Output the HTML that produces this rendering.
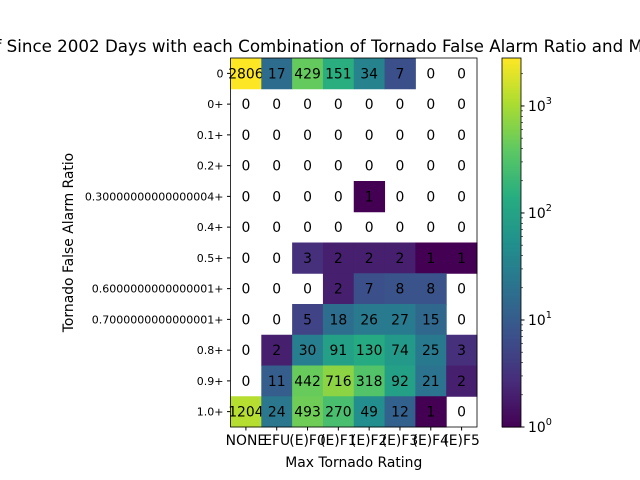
<!DOCTYPE html>
<html><head><meta charset="utf-8"><style>body{margin:0;background:#fff}svg{display:block;font-family:"DejaVu Sans","Liberation Sans",sans-serif}</style></head>
<body>
<svg id="c" width="640" height="480" viewBox="0 0 640 480"></svg>
<script>
const xCats=["NONE","EFU","(E)F0","(E)F1","(E)F2","(E)F3","(E)F4","(E)F5"];
const yCats=["0","0+","0.1+","0.2+","0.30000000000000004+","0.4+","0.5+","0.6000000000000001+","0.7000000000000001+","0.8+","0.9+","1.0+"];
const row0=[2806,17,429,151,34,7,0,0];
const row1=[0,0,0,0,0,0,0,0];
const row2=[0,0,0,0,0,0,0,0];
const row3=[0,0,0,0,0,0,0,0];
const row4=[0,0,0,0,1,0,0,0];
const row5=[0,0,0,0,0,0,0,0];
const row6=[0,0,3,2,2,2,1,1];
const row7=[0,0,0,2,7,8,8,0];
const row8=[0,0,5,18,26,27,15,0];
const row9=[0,2,30,91,130,74,25,3];
const row10=[0,11,442,716,318,92,21,2];
const row11=[1204,24,493,270,49,12,1,0];
const values=[row0,row1,row2,row3,row4,row5,row6,row7,row8,row9,row10,row11];
const cbTicks=[1,10,100,1000];
const cbTickLabels=["10","10","10","10"];
const cbTickExps=["0","1","2","3"];

const NS="http://www.w3.org/2000/svg";
const svg=document.getElementById('c');
function mk(t,a,p){const e=document.createElementNS(NS,t);for(const k in a)e.setAttribute(k,a[k]);(p||svg).appendChild(e);return e;}
const L=230.5,R=477,T=58,B=427;
const vmax=Math.max(...values.flat()),vmin=1;
const cw=(R-L)/xCats.length,ch=(B-T)/yCats.length;
const xPos=i=>L+i*cw, yPos=j=>T+j*ch;
const stops=[[0,[68,1,84]],[0.125,[71,44,122]],[0.25,[59,81,139]],[0.375,[44,113,142]],[0.5,[33,144,141]],[0.625,[39,173,129]],[0.75,[92,200,99]],[0.875,[170,220,50]],[1,[253,231,37]]];
function vir(t){t=Math.max(0,Math.min(1,t));for(let i=1;i<stops.length;i++){if(t<=stops[i][0]){const a=stops[i-1],b=stops[i];const f=(t-a[0])/(b[0]-a[0]);const c=a[1].map((v,k)=>Math.round(v+(b[1][k]-v)*f));return `rgb(${c})`;}}return 'rgb(253,231,37)';}
const norm=v=>Math.log10(v/vmin)/Math.log10(vmax/vmin);
const tt=mk('text',{x:353,y:52,'text-anchor':'middle','font-size':16.7});
tt.textContent="Number of Since 2002 Days with each Combination of Tornado False Alarm Ratio and Max Tornado Rating";


values.forEach((row,j)=>row.forEach((v,i)=>{
  if(v>0){const r=mk('rect',{x:xPos(i),y:yPos(j),width:cw+0.5,height:ch+0.5,fill:vir(norm(v))});
    
    }
  const t=mk('text',{x:xPos(i)+cw/2,y:yPos(j)+ch/2+5,'text-anchor':'middle','font-size':13.9});
  t.textContent=v;
  
  
}));
mk('rect',{x:L,y:T,width:R-L,height:B-T,fill:'none',stroke:'#000','stroke-width':0.8});
xCats.forEach((c,i)=>{const x=xPos(i)+cw/2;mk('line',{x1:x,x2:x,y1:B,y2:B+3.5,stroke:'#000'});
  const t=mk('text',{x:x,y:B+18,'text-anchor':'middle','font-size':13.9});t.textContent=c;
  
  });
yCats.forEach((c,j)=>{const y=yPos(j)+ch/2;mk('line',{x1:L-3.5,x2:L,y1:y,y2:y,stroke:'#000'});
  const t=mk('text',{x:L-7,y:y+4,'text-anchor':'end','font-size':11});t.textContent=c;
  
  });
const xl=mk('text',{x:(L+R)/2,y:467,'text-anchor':'middle','font-size':13.9});xl.textContent="Max Tornado Rating";


const yl=mk('text',{x:0,y:0,'text-anchor':'middle','font-size':13.9,transform:`translate(73,${(T+B)/2}) rotate(-90)`});yl.textContent="Tornado False Alarm Ratio";


const cL=502,cR=521;
const cy=v=>B-norm(v)*(B-T);
for(let k=0;k<200;k++){const t0=k/200;mk('rect',{x:cL,y:B-(t0+1/200)*(B-T),width:cR-cL,height:(B-T)/200+0.6,fill:vir(t0+0.5/200)});}
const cb=mk('rect',{x:cL,y:T,width:cR-cL,height:B-T,fill:'none',stroke:'#000','stroke-width':0.8});


for(let e=0;e<4;e++)for(let m=2;m<10;m++){const v=m*Math.pow(10,e);if(v>vmax)break;const y=cy(v);mk('line',{x1:cR,x2:cR+2,y1:y,y2:y,stroke:'#000','stroke-width':0.6});}
cbTicks.forEach((v,i)=>{const y=cy(v);mk('line',{x1:cR,x2:cR+3.5,y1:y,y2:y,stroke:'#000'});
  const t=mk('text',{x:cR+7,y:y+5,'font-size':13.9});t.textContent=cbTickLabels[i];
  const s=mk('tspan',{dy:-7,'font-size':9.7},t);s.textContent=cbTickExps[i];
  
  });
</script>
</body></html>
